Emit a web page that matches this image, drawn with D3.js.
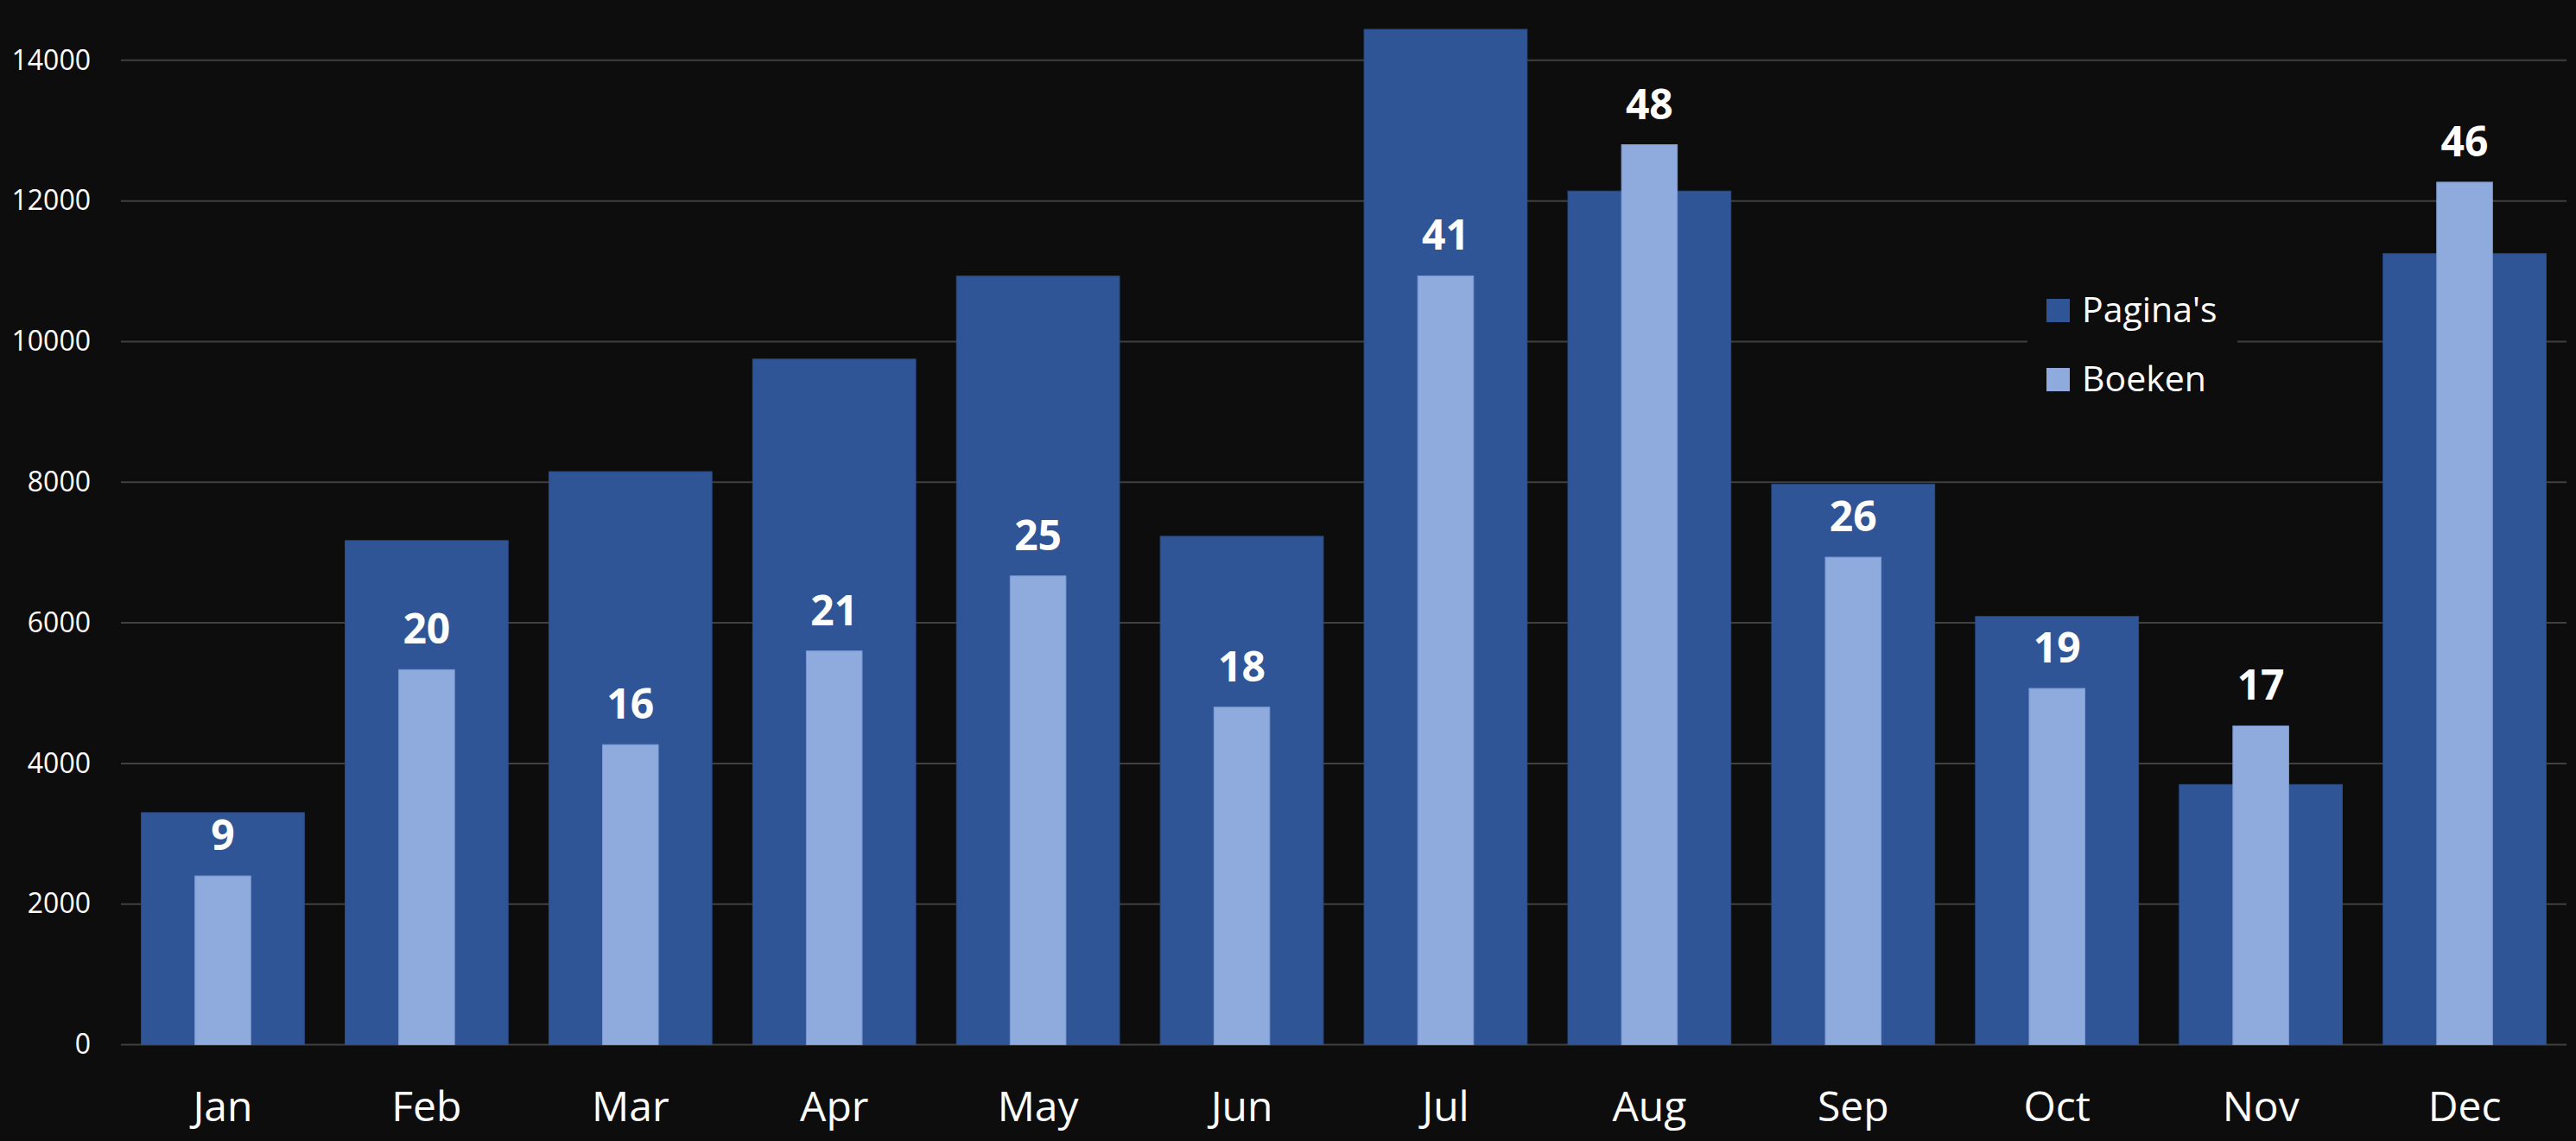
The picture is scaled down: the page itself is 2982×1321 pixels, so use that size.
<!DOCTYPE html>
<html>
<head>
<meta charset="utf-8">
<script src="https://cdn.jsdelivr.net/npm/d3@7"></script>
<style>
  html, body { margin: 0; padding: 0; background: #0d0d0d; }
  svg { display: block; }
  text { font-family: "Open Sans", "Noto Sans", sans-serif; fill: #ffffff; }
</style>
</head>
<body>
<script>
const months = ["Jan","Feb","Mar","Apr","May","Jun","Jul","Aug","Sep","Oct","Nov","Dec"];
const paginas = [3300, 7170, 8150, 9750, 10930, 7230, 14440, 12140, 7970, 6090, 3700, 11250];
const boeken = [9, 20, 16, 21, 25, 18, 41, 48, 26, 19, 17, 46];
const yTicks = [0, 2000, 4000, 6000, 8000, 10000, 12000, 14000];
const seriesNames = ["Pagina's", "Boeken"];
const colors = ["#2f5597", "#8faadc"];

const W = 2982, H = 1321;
const left = 140, right = 2971, base = 1209.5, topY = -93;

const svg = d3.select("body").append("svg").attr("width", W).attr("height", H);
svg.append("rect").attr("width", W).attr("height", H).attr("fill", "#0d0d0d");

const x = d3.scaleBand().domain(months).range([left, right]).paddingInner(0.2).paddingOuter(0.1);
const yP = d3.scaleLinear().domain([0, 16000]).range([base, topY]);
const yB = d3.scaleLinear().domain([0, 60]).range([base, topY]);

// gridlines + y axis labels
const yAxis = d3.axisLeft(yP).tickValues(yTicks).tickSize(0).tickPadding(35).tickFormat(d3.format("d"));
const ga = svg.append("g").attr("transform", `translate(${left},0)`).call(yAxis);
ga.select(".domain").remove();
ga.selectAll("text").attr("font-size", 32).attr("fill", "#ffffff").style("font-family", '"Open Sans", sans-serif');

svg.append("g").selectAll("line").data(yTicks).join("line")
  .attr("x1", left).attr("x2", right)
  .attr("y1", d => yP(d)).attr("y2", d => yP(d))
  .attr("stroke", "#404040").attr("stroke-width", 2);

// Pagina's bars
svg.append("g").selectAll("rect").data(months).join("rect")
  .attr("x", d => x(d)).attr("width", x.bandwidth())
  .attr("y", (d, i) => yP(paginas[i])).attr("height", (d, i) => base - yP(paginas[i]))
  .attr("fill", colors[0]).attr("stroke", "#2a4c88").attr("stroke-width", 1);

// Boeken bars
const bw = x.bandwidth() * 0.342;
svg.append("g").selectAll("rect").data(months).join("rect")
  .attr("x", d => x(d) + (x.bandwidth() - bw) / 2).attr("width", bw)
  .attr("y", (d, i) => yB(boeken[i])).attr("height", (d, i) => base - yB(boeken[i]))
  .attr("fill", colors[1]).attr("stroke", "#7c9bd2").attr("stroke-width", 1);

// data labels
svg.append("g").selectAll("text").data(months).join("text")
  .attr("x", d => x(d) + x.bandwidth() / 2)
  .attr("y", (d, i) => yB(boeken[i]) - 30)
  .attr("text-anchor", "middle")
  .attr("font-size", 48).attr("font-weight", 700)
  .text((d, i) => boeken[i]);

// x axis labels
const xAxis = d3.axisBottom(x).tickSize(0).tickPadding(0);
const gx = svg.append("g").attr("transform", `translate(0,${base})`).call(xAxis);
gx.select(".domain").remove();
gx.selectAll("text").attr("font-size", 48).attr("fill", "#ffffff")
  .style("font-family", '"Open Sans", sans-serif')
  .attr("dy", null).attr("y", 88);

// legend
const lg = svg.append("g");
lg.append("rect").attr("x", 2347).attr("y", 322).attr("width", 243).attr("height", 155).attr("fill", "#0d0d0d");
seriesNames.forEach((name, i) => {
  const yy = 346 + i * 80;
  lg.append("rect").attr("x", 2369).attr("y", yy).attr("width", 27).attr("height", 27).attr("fill", colors[i]);
  lg.append("text").attr("x", 2410).attr("y", yy + 27).attr("font-size", 41).text(name);
});
</script>
</body>
</html>
